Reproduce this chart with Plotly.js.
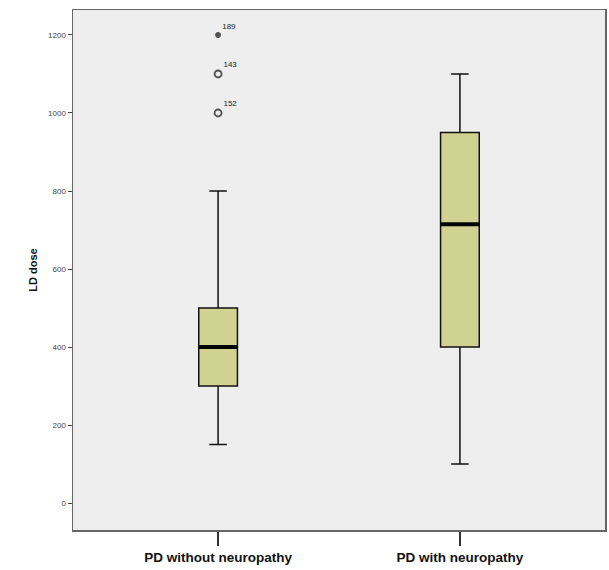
<!DOCTYPE html>
<html><head><meta charset="utf-8">
<script src="https://cdn.plot.ly/plotly-3.0.1.min.js"></script>
<style>body{margin:0;background:#fff}#c{width:609px;height:570px}</style>
</head><body><div id="c"></div>
<script>
const categories = ["PD without neuropathy", "PD with neuropathy"];
const lowerWhisker = [150, 100];
const q1 = [300, 400];
const median = [400, 715];
const q3 = [500, 950];
const upperWhisker = [800, 1100];
const outlierGroup = [0, 0, 0];
const outlierValues = [1000, 1100, 1200];
const outlierLabels = ["152", "143", "189"];
const outlierSymbols = ["circle-open", "circle-open", "asterisk-open"];
const outlierSizes = [7, 7, 5];
const yTicks = [0, 200, 400, 600, 800, 1000, 1200];

const boxW = 0.16;
const xs = categories.map((c, i) => i);
const traces = [{
  type: "box",
  x: xs, q1: q1, median: median, q3: q3,
  lowerfence: lowerWhisker, upperfence: upperWhisker,
  width: boxW, whiskerwidth: 0.45,
  fillcolor: "rgb(208,210,145)",
  line: {color: "#111", width: 1.5},
  boxpoints: false, hoverinfo: "skip", showlegend: false
}];
// thick median lines
xs.forEach((x, i) => {
  traces.push({type: "scatter", mode: "lines",
    x: [x - boxW / 2, x + boxW / 2], y: [median[i], median[i]],
    line: {color: "#000", width: 4}, showlegend: false, hoverinfo: "skip"});
});
traces.push({
  type: "scatter", mode: "markers+text",
  x: outlierGroup, y: outlierValues, text: outlierLabels,
  textposition: "top right",
  textfont: {size: 8, color: "#222", family: "Liberation Sans"},
  marker: {symbol: outlierSymbols, size: outlierSizes, color: "#111", line: {width: 1.8, color: "#111"}},
  showlegend: false, hoverinfo: "skip"
});

const layout = {
  width: 609, height: 570,
  margin: {l: 73, r: 4, t: 10, b: 40},
  paper_bgcolor: "#fff", plot_bgcolor: "#eeeeee",
  font: {family: "Liberation Sans, Arial, sans-serif", color: "#222"},
  xaxis: {range: [-0.6, 1.6], tickvals: xs, ticktext: categories,
    ticks: "outside", ticklen: 14, tickcolor: "#333", tickwidth: 1.5, showgrid: false, zeroline: false,
    showline: true, linecolor: "#666", linewidth: 1.5, mirror: true,
    tickfont: {size: 13.5, color: "#111", family: "Liberation Sans", weight: "bold"}},
  yaxis: {range: [-69, 1264], tickvals: yTicks, ticks: "outside", ticklen: 4, tickcolor: "#444",
    showgrid: false, zeroline: false, showline: true, linecolor: "#666", linewidth: 1.5, mirror: true,
    tickfont: {size: 8, color: "#444"},
    title: {text: "LD dose", font: {size: 11, color: "#111", weight: "bold"}, standoff: 8}}
};
Plotly.newPlot("c", traces, layout, {displayModeBar: false, staticPlot: true});
</script></body></html>
